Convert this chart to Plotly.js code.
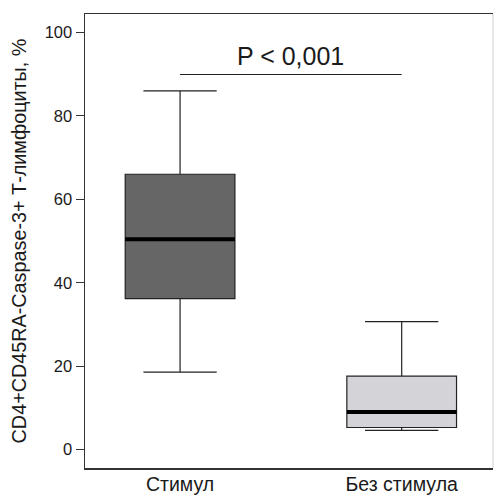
<!DOCTYPE html>
<html>
<head>
<meta charset="utf-8">
<script src="https://cdn.plot.ly/plotly-3.0.1.min.js"></script>
<style>html,body{margin:0;padding:0;background:#fff;}#chart{width:494px;height:495px;}</style>
</head>
<body>
<div id="chart"></div>
<script>
// Data
const categories = ["Стимул", "Без стимула"];
const lowerFence = [18.6, 4.6];
const q1Values = [36.2, 5.3];
const medianValues = [50.4, 9.0];
const q3Values = [66.0, 17.6];
const upperFence = [86.0, 30.7];
const fillColors = ["#666666", "#d4d4d8"];
const significanceY = 89.9;
const significanceText = "P < 0,001";
const yTickVals = [0, 20, 40, 60, 80, 100];

const boxWidth = 0.495;
const FONT = "Liberation Sans, Arial, sans-serif";
const positions = categories.map((c, i) => i);

const traces = [];
categories.forEach((cat, i) => {
  traces.push({
    type: "box",
    name: cat,
    x: [positions[i]],
    q1: [q1Values[i]],
    median: [medianValues[i]],
    q3: [q3Values[i]],
    lowerfence: [lowerFence[i]],
    upperfence: [upperFence[i]],
    width: boxWidth,
    whiskerwidth: 0.668,
    boxpoints: false,
    fillcolor: fillColors[i],
    line: {color: "#222222", width: 1.2},
    hoverinfo: "skip",
    showlegend: false
  });
});
// thick median lines
categories.forEach((cat, i) => {
  traces.push({
    type: "scatter",
    mode: "lines",
    x: [positions[i] - boxWidth / 2, positions[i] + boxWidth / 2],
    y: [medianValues[i], medianValues[i]],
    line: {color: "#000000", width: 4},
    hoverinfo: "skip",
    showlegend: false
  });
});
// significance bar
traces.push({
  type: "scatter",
  mode: "lines",
  x: [positions[0], positions[1]],
  y: [significanceY, significanceY],
  line: {color: "#222222", width: 1.2},
  hoverinfo: "skip",
  showlegend: false
});

const layout = {
  width: 494,
  height: 495,
  margin: {l: 85, r: 1, t: 14, b: 27, pad: 0},
  paper_bgcolor: "#ffffff",
  plot_bgcolor: "#ffffff",
  font: {family: FONT, color: "#1a1a1a"},
  showlegend: false,
  xaxis: {
    range: [-0.429, 1.412],
    tickvals: positions,
    ticktext: categories,
    ticks: "",
    ticklabelstandoff: -2,
    showgrid: false,
    zeroline: false,
    showline: true,
    mirror: true,
    linecolor: "#333333",
    linewidth: 1.5,
    tickfont: {family: FONT, size: 19.5, color: "#1a1a1a"},
    fixedrange: true
  },
  yaxis: {
    range: [-4.4, 104.4],
    tickvals: yTickVals,
    ticks: "outside",
    ticklen: 8,
    tickwidth: 1,
    tickcolor: "#333333",
    showgrid: false,
    zeroline: false,
    showline: true,
    linecolor: "#333333",
    linewidth: 1.5,
    tickfont: {family: FONT, size: 16.5, color: "#1a1a1a"},
    title: {
      text: "CD4+CD45RA-Caspase-3+ Т-лимфоциты, %",
      font: {family: FONT, size: 19.8, color: "#1a1a1a"},
      standoff: 12
    },
    fixedrange: true
  },
  shapes: [{
    type: "line", xref: "paper", yref: "paper",
    x0: 1, x1: 1, y0: 0, y1: 1,
    line: {color: "#d0d0d0", width: 1}
  }],
  annotations: [{
    x: (positions[0] + positions[1]) / 2,
    y: 94.3,
    xref: "x", yref: "y",
    text: significanceText,
    showarrow: false,
    xanchor: "center",
    yanchor: "middle",
    font: {family: FONT, size: 25, color: "#1a1a1a"}
  }]
};

Plotly.newPlot("chart", traces, layout, {displayModeBar: false, staticPlot: true});
</script>
</body>
</html>
